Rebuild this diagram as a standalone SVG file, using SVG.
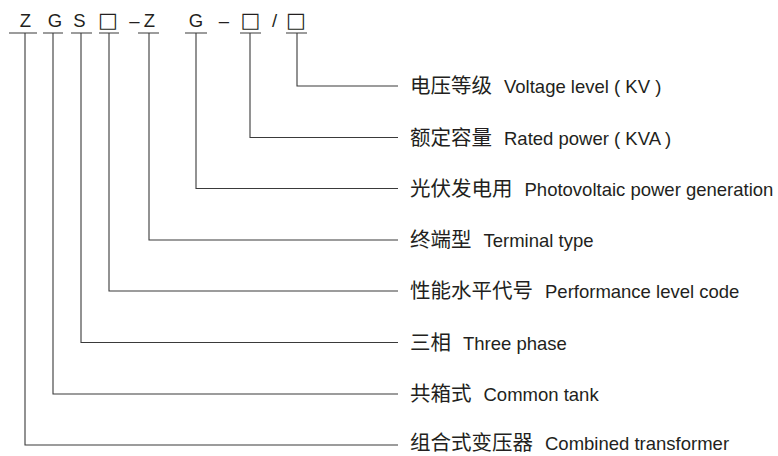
<svg xmlns="http://www.w3.org/2000/svg" width="778" height="456" viewBox="0 0 778 456">
<style>
.code{font-family:"Liberation Sans",Arial,sans-serif;font-size:18.5px;fill:#231f20;text-anchor:middle}
.box{font-family:"DejaVu Sans",sans-serif;font-size:21px;fill:#231f20;text-anchor:middle}
.lbl{fill:#231f20}
.cn{font-family:"Noto Sans CJK SC",sans-serif;font-size:20.5px}
.en{font-family:"Liberation Sans","Noto Sans CJK SC",sans-serif;font-size:18.5px}
.ln{fill:none;stroke:#3a3a3a;stroke-width:1.1}
</style>
<rect width="778" height="456" fill="#ffffff"/>
<g id="code">
<text class="code" x="25.5" y="26.5">Z</text>
<text class="code" x="55" y="26.5">G</text>
<text class="code" x="79.5" y="26.5">S</text>
<text class="box" x="108" y="26.5">□</text>
<text class="code" x="134.5" y="26.5">–</text>
<text class="code" x="149.5" y="26.5">Z</text>
<text class="code" x="196" y="26.5">G</text>
<text class="code" x="224" y="26.5">–</text>
<text class="box" x="250.5" y="26.5">□</text>
<text class="code" x="274.5" y="26.5">/</text>
<text class="box" x="296" y="26.5">□</text>
</g>
<g id="connectors" class="ln">
<path d="M9 33H37M25 33V445H398"/>
<path d="M43 33H63M53 33V394H398"/>
<path d="M71 33H92M81 33V342.5H398"/>
<path d="M99 33H119M109 33V291H398"/>
<path d="M138 33H159M149 33V240H398"/>
<path d="M185 33H207M196 33V188.5H398"/>
<path d="M240 33H261M250 33V137.5H398"/>
<path d="M286 33H307M297 33V86H398"/>
</g>
<g id="label-voltage"><text class="lbl" x="410" y="93"><tspan class="cn">电压等级</tspan><tspan class="en" dx="12">Voltage level ( KV )</tspan></text></g>
<g id="label-power"><text class="lbl" x="410" y="144.5"><tspan class="cn">额定容量</tspan><tspan class="en" dx="12">Rated power ( KVA )</tspan></text></g>
<g id="label-pv"><text class="lbl" x="410" y="195.5"><tspan class="cn">光伏发电用</tspan><tspan class="en" dx="12">Photovoltaic power generation</tspan></text></g>
<g id="label-terminal"><text class="lbl" x="410" y="247"><tspan class="cn">终端型</tspan><tspan class="en" dx="12">Terminal type</tspan></text></g>
<g id="label-performance"><text class="lbl" x="410" y="298"><tspan class="cn">性能水平代号</tspan><tspan class="en" dx="12">Performance level code</tspan></text></g>
<g id="label-phase"><text class="lbl" x="410" y="349.5"><tspan class="cn">三相</tspan><tspan class="en" dx="12">Three phase</tspan></text></g>
<g id="label-tank"><text class="lbl" x="410" y="401"><tspan class="cn">共箱式</tspan><tspan class="en" dx="12">Common tank</tspan></text></g>
<g id="label-combined"><text class="lbl" x="410" y="450"><tspan class="cn">组合式变压器</tspan><tspan class="en" dx="12">Combined transformer</tspan></text></g>
</svg>
